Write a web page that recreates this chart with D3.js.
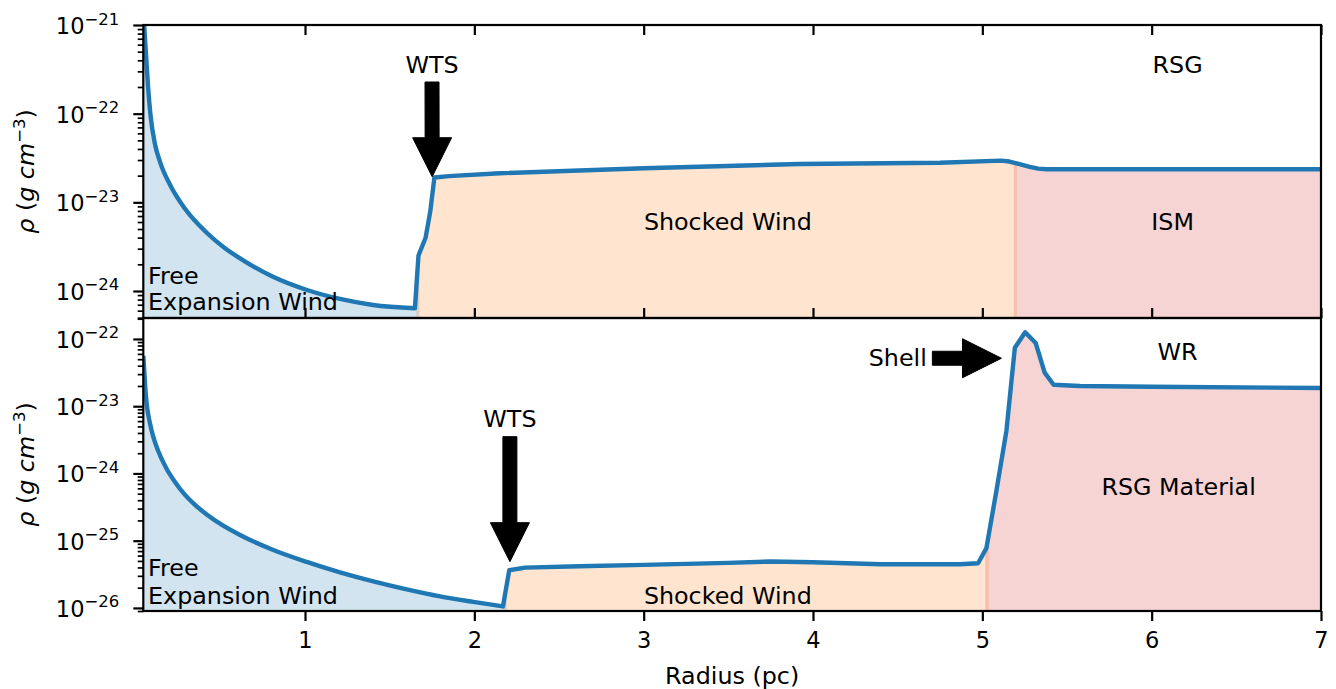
<!DOCTYPE html>
<html>
<head>
<meta charset="utf-8">
<script src="https://cdn.jsdelivr.net/npm/d3@7"></script>
<style>
  body { margin: 0; background: #fff; }
  text { font-family: "DejaVu Sans", sans-serif; fill: #000; }
</style>
</head>
<body>
<svg id="chart" width="1336" height="689"></svg>
<script>
// ---- Density profile at the end of the RSG phase (radius in pc, log10 rho in g cm^-3)
const rsgRadius = [0.045, 0.0609, 0.0728, 0.0875, 0.1141, 0.1436, 0.2027, 0.2913, 0.4212, 0.5275,
  0.6161, 0.811, 1.0118, 1.2067, 1.4016, 1.649,
  1.670, 1.712, 1.740, 1.764, 1.85, 2.15, 3.0, 3.92, 4.75, 5.11, 5.16, 5.22, 5.28, 5.33, 5.38, 7.0];
const rsgLogDensity = [-20.85, -21.327, -21.688, -22.015, -22.345, -22.543, -22.802, -23.073, -23.346, -23.518,
  -23.631, -23.840, -23.989, -24.090, -24.158, -24.195,
  -23.60, -23.40, -23.10, -22.72, -22.705, -22.672, -22.616, -22.568, -22.553, -22.53, -22.54, -22.57, -22.60, -22.62, -22.627, -22.627];

// ---- Density profile at the end of the WR phase
const wrRadius = [0.045, 0.0497, 0.0568, 0.0651, 0.0757, 0.0846, 0.1041, 0.1318, 0.1832, 0.2322, 0.2812,
  0.3503, 0.4194, 0.5098, 0.6161, 0.8128, 1.010, 1.2067, 1.4033, 1.6006, 1.7973, 1.9939, 2.169,
  2.206, 2.30, 2.62, 3.0, 3.5, 3.75, 4.0, 4.4, 4.867, 4.975,
  5.024, 5.083, 5.142, 5.192, 5.253, 5.315, 5.368, 5.421, 5.575, 6.0, 7.0];
const wrLogDensity = [-22.25, -22.431, -22.729, -22.967, -23.145, -23.257, -23.457, -23.658, -23.933, -24.126, -24.290,
  -24.468, -24.610, -24.766, -24.915, -25.138, -25.316, -25.472, -25.606, -25.725, -25.829, -25.911, -25.978,
  -25.44, -25.40, -25.38, -25.36, -25.33, -25.31, -25.32, -25.35, -25.35, -25.335,
  -25.11, -24.26, -23.37, -22.13, -21.90, -22.06, -22.50, -22.68, -22.70, -22.71, -22.73];

// ---- Shaded regions (pc): free expansion wind, shocked wind, outer medium
const rsgRegionStart = [0.045, 1.655, 5.186];
const rsgRegionEnd   = [1.675, 5.205, 7.0];
const wrRegionStart  = [0.045, 2.171, 5.018];
const wrRegionEnd    = [2.191, 5.038, 7.0];
const regionColors   = ["#1f77b4", "#ff7f0e", "#d62728"];

// ---- Text labels: [text, radius, log10 rho, anchor]
const rsgLabels = [
  ["RSG", 6.153, -21.44, "middle"],
  ["Shocked Wind", 3.497, -23.21, "middle"],
  ["ISM", 6.124, -23.21, "middle"],
  ["Free", 0.073, -23.83, "start"],
  ["Expansion Wind", 0.073, -24.12, "start"]
];
const wrLabels = [
  ["WR", 6.153, -22.19, "middle"],
  ["RSG Material", 6.159, -24.19, "middle"],
  ["Shocked Wind", 3.497, -25.81, "middle"],
  ["Free", 0.073, -25.40, "start"],
  ["Expansion Wind", 0.073, -25.81, "start"]
];

// ---- Arrow annotations: [text, text radius, text log rho, tail radius, tail log rho, tip radius, tip log rho, text anchor]
const rsgArrows = [["WTS", 1.75, -21.44, 1.75, -21.643, 1.751, -22.711, "middle"]];
const wrArrows = [
  ["WTS", 2.21, -23.175, 2.21, -23.453, 2.21, -25.312, "middle"],
  ["Shell", 4.672, -22.268, 4.705, -22.287, 5.113, -22.287, "end"]
];

// ---- Axis ticks and limits
const radiusTicks = [1, 2, 3, 4, 5, 6, 7];
const rsgDecades = [-24, -23, -22, -21];
const wrDecades = [-26, -25, -24, -23, -22];
const rsgLimits = [4.96e-25, 1e-21];
const wrLimits = [9.0e-27, 2.05e-22];

// ---- Layout
const plotLeft = 143.3, plotRight = 1321;
const FONT = 23.8, TICK_FONT = 22.5, SUP_FONT = 16.5;

const svg = d3.select("#chart");
const x = d3.scaleLinear().domain([0.045, 7]).range([plotLeft, plotRight]);

const panels = [
  { id: "rsg", top: 25, bottom: 318, limits: rsgLimits, radius: rsgRadius, logRho: rsgLogDensity,
    starts: rsgRegionStart, ends: rsgRegionEnd, labels: rsgLabels, arrows: rsgArrows, decades: rsgDecades, showX: false },
  { id: "wr", top: 318, bottom: 611, limits: wrLimits, radius: wrRadius, logRho: wrLogDensity,
    starts: wrRegionStart, ends: wrRegionEnd, labels: wrLabels, arrows: wrArrows, decades: wrDecades, showX: true }
];

const defs = svg.append("defs");

function arrowPolygon(t, p, headLen, headHalf, shaftHalf) {
  const dx = p[0] - t[0], dy = p[1] - t[1];
  const len = Math.hypot(dx, dy);
  const ux = dx / len, uy = dy / len, nx = -uy, ny = ux;
  const bx = p[0] - ux * headLen, by = p[1] - uy * headLen;
  return [
    [t[0] + nx * shaftHalf, t[1] + ny * shaftHalf],
    [bx + nx * shaftHalf, by + ny * shaftHalf],
    [bx + nx * headHalf, by + ny * headHalf],
    p,
    [bx - nx * headHalf, by - ny * headHalf],
    [bx - nx * shaftHalf, by - ny * shaftHalf],
    [t[0] - nx * shaftHalf, t[1] - ny * shaftHalf]
  ];
}

panels.forEach(p => {
  const y = d3.scaleLog().domain(p.limits).range([p.bottom, p.top]);
  const pts = p.radius.map((r, i) => [x(r), y(Math.pow(10, p.logRho[i]))]);
  const g = svg.append("g");

  // the unshocked wind is a smooth power-law-like profile; the rest is a polyline
  const nSmooth = p.radius.filter(r => r <= p.starts[1]).length;
  const smoothPath = d3.line().curve(d3.curveMonotoneX)(pts.slice(0, nSmooth));
  const linePath = smoothPath + pts.slice(nSmooth).map(q => `L${q[0]},${q[1]}`).join("");
  const areaPath = linePath + `L${pts[pts.length - 1][0]},${p.bottom}L${pts[0][0]},${p.bottom}Z`;

  defs.append("clipPath").attr("id", `${p.id}-panel`)
    .append("rect").attr("x", plotLeft).attr("y", p.top)
    .attr("width", plotRight - plotLeft).attr("height", p.bottom - p.top);

  // shaded regions under the profile
  p.starts.forEach((s, i) => {
    const cid = `${p.id}-region-${i}`;
    defs.append("clipPath").attr("id", cid)
      .append("rect").attr("x", x(s)).attr("y", p.top)
      .attr("width", x(p.ends[i]) - x(s)).attr("height", p.bottom - p.top);
    g.append("g").attr("clip-path", `url(#${p.id}-panel)`)
      .append("path")
      .attr("clip-path", `url(#${cid})`)
      .attr("d", areaPath)
      .attr("fill", regionColors[i]).attr("fill-opacity", 0.2);
  });

  // density profile
  g.append("path")
    .attr("clip-path", `url(#${p.id}-panel)`)
    .attr("d", linePath)
    .attr("fill", "none").attr("stroke", "#1f77b4")
    .attr("stroke-width", 4.4).attr("stroke-linejoin", "round").attr("stroke-linecap", "butt");

  // region labels
  p.labels.forEach(l => {
    g.append("text").attr("x", x(l[1])).attr("y", y(Math.pow(10, l[2])))
      .attr("dy", "0.36em").attr("text-anchor", l[3])
      .attr("font-size", FONT).text(l[0]);
  });

  // arrow annotations
  p.arrows.forEach(a => {
    g.append("text").attr("x", x(a[1])).attr("y", y(Math.pow(10, a[2])))
      .attr("dy", "0.36em").attr("text-anchor", a[7])
      .attr("font-size", FONT).text(a[0]);
    const tail = [x(a[3]), y(Math.pow(10, a[4]))];
    const tip = [x(a[5]), y(Math.pow(10, a[6]))];
    g.append("polygon")
      .attr("points", arrowPolygon(tail, tip, 39, 19.5, 7).map(q => q.join(",")).join(" "))
      .attr("fill", "#000").attr("stroke", "#000").attr("stroke-width", 1).attr("stroke-linejoin", "round");
  });

  // y axis: major and minor log ticks
  const major = p.decades.map(e => Math.pow(10, e));
  const minor = [];
  const lo = Math.floor(Math.log10(p.limits[0])), hi = Math.ceil(Math.log10(p.limits[1]));
  for (let e = lo; e < hi; e++) for (let k = 2; k <= 9; k++) {
    const v = k * Math.pow(10, e);
    if (v >= p.limits[0] && v <= p.limits[1]) minor.push(v);
  }
  const yMinor = g.append("g").attr("transform", `translate(${plotLeft},0)`)
    .call(d3.axisLeft(y).tickValues(minor).tickSize(5.6).tickFormat(""));
  yMinor.select(".domain").remove();
  yMinor.selectAll("line").attr("stroke", "#000").attr("stroke-width", 1.7);
  const yMajor = g.append("g").attr("transform", `translate(${plotLeft},0)`)
    .call(d3.axisLeft(y).tickValues(major).tickSize(10).tickFormat(""));
  yMajor.select(".domain").remove();
  yMajor.selectAll("line").attr("stroke", "#000").attr("stroke-width", 2.2);

  p.decades.forEach(e => {
    const t = g.append("text").attr("x", plotLeft - 24).attr("y", y(Math.pow(10, e)) + 9)
      .attr("text-anchor", "end").attr("font-size", TICK_FONT);
    t.append("tspan").text("10");
    t.append("tspan").attr("dy", -9.5).attr("font-size", SUP_FONT).text("\u2212" + Math.abs(e));
  });

  // y label
  const yl = g.append("text")
    .attr("transform", `translate(34,${(p.top + p.bottom) / 2}) rotate(-90)`)
    .attr("text-anchor", "middle").attr("font-size", FONT);
  yl.append("tspan").attr("font-style", "italic").text("\u03c1");
  yl.append("tspan").text(" (");
  yl.append("tspan").attr("font-style", "italic").text("g cm");
  yl.append("tspan").attr("dy", -9.5).attr("font-size", SUP_FONT).text("\u22123");
  yl.append("tspan").attr("dy", 9.5).text(")");

  // x axis
  if (p.showX) {
    const xa = g.append("g").attr("transform", `translate(0,${p.bottom})`)
      .call(d3.axisBottom(x).tickValues(radiusTicks).tickSize(10).tickPadding(11).tickFormat(d3.format("d")));
    xa.select(".domain").remove();
    xa.selectAll("line").attr("stroke", "#000").attr("stroke-width", 2.2);
    xa.selectAll("text").attr("font-size", TICK_FONT).attr("font-family", "DejaVu Sans").attr("fill", "#000");
    g.append("text").attr("x", (plotLeft + plotRight) / 2).attr("y", 684)
      .attr("text-anchor", "middle").attr("font-size", FONT).text("Radius (pc)");
  } else {
    const xt = g.append("g").attr("transform", `translate(0,${p.top})`)
      .call(d3.axisTop(x).tickValues(radiusTicks).tickSize(-10).tickFormat(""));
    const xb = g.append("g").attr("transform", `translate(0,${p.bottom})`)
      .call(d3.axisBottom(x).tickValues(radiusTicks).tickSize(-10).tickFormat(""));
    [xt, xb].forEach(a => {
      a.select(".domain").remove();
      a.selectAll("line").attr("stroke", "#000").attr("stroke-width", 2.2);
    });
  }

  // frame
  g.append("rect").attr("x", plotLeft).attr("y", p.top)
    .attr("width", plotRight - plotLeft).attr("height", p.bottom - p.top)
    .attr("fill", "none").attr("stroke", "#000").attr("stroke-width", 2.2);
});
</script>
</body>
</html>
